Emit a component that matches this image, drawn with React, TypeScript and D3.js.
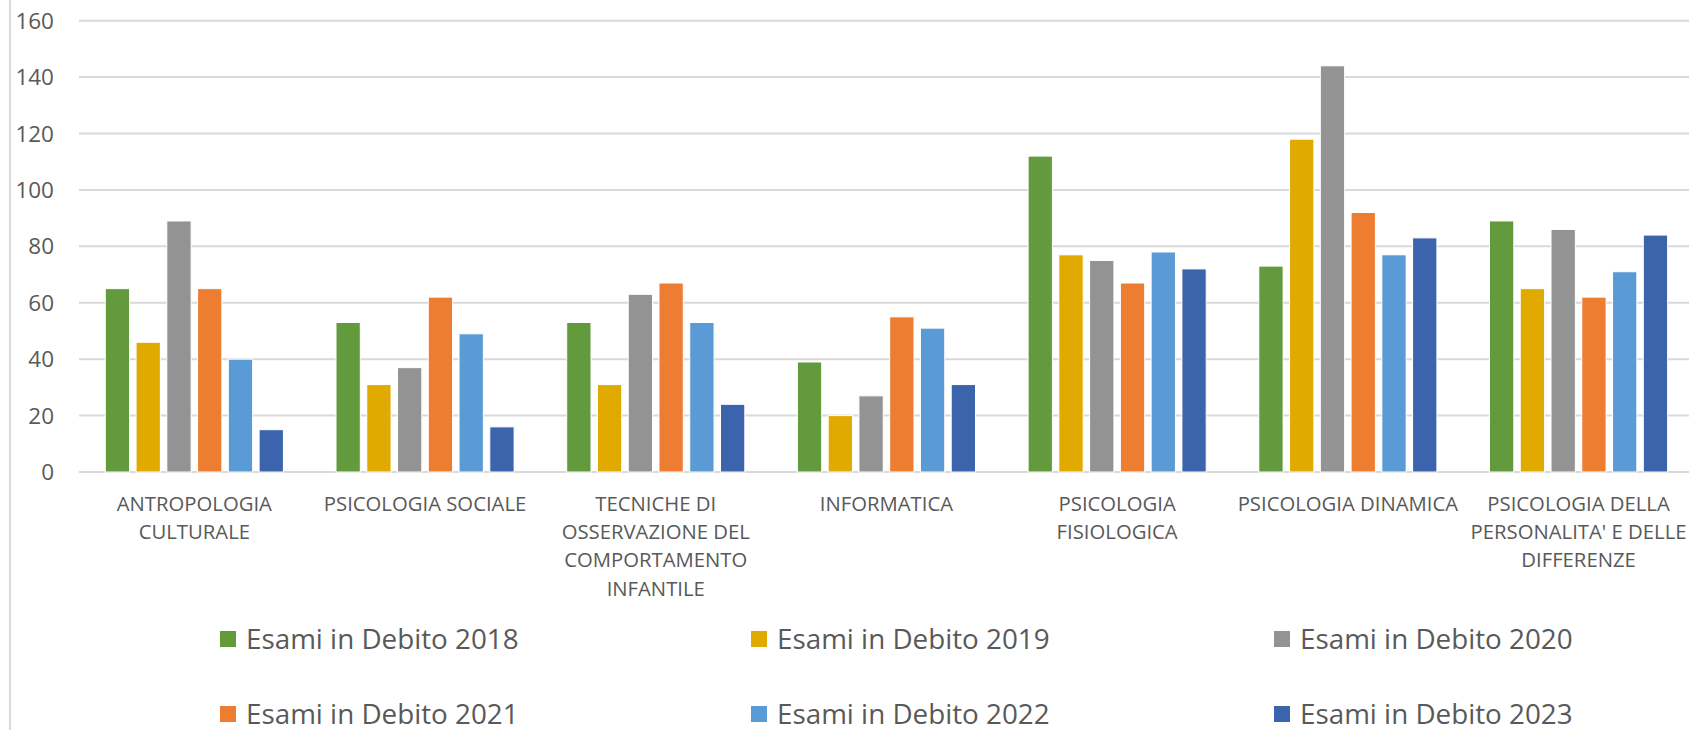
import React, { useRef, useEffect } from "react";
import * as d3 from "d3";

const categories = [
  ["ANTROPOLOGIA", "CULTURALE"],
  ["PSICOLOGIA SOCIALE"],
  ["TECNICHE DI", "OSSERVAZIONE DEL", "COMPORTAMENTO", "INFANTILE"],
  ["INFORMATICA"],
  ["PSICOLOGIA", "FISIOLOGICA"],
  ["PSICOLOGIA DINAMICA"],
  ["PSICOLOGIA DELLA", "PERSONALITA' E DELLE", "DIFFERENZE"],
];

const seriesNames = [
  "Esami in Debito 2018",
  "Esami in Debito 2019",
  "Esami in Debito 2020",
  "Esami in Debito 2021",
  "Esami in Debito 2022",
  "Esami in Debito 2023",
];

const debito2018 = [65, 53, 53, 39, 112, 73, 89];
const debito2019 = [46, 31, 31, 20, 77, 118, 65];
const debito2020 = [89, 37, 63, 27, 75, 144, 86];
const debito2021 = [65, 62, 67, 55, 67, 92, 62];
const debito2022 = [40, 49, 53, 51, 78, 77, 71];
const debito2023 = [15, 16, 24, 31, 72, 83, 84];

const yTicks = [0, 20, 40, 60, 80, 100, 120, 140, 160];

const colors = ["#639a3e", "#e1aa00", "#939393", "#ed7d31", "#5b9bd5", "#3c64ad"];

const App = () => {
  const chartRef = useRef<HTMLDivElement>(null);

  useEffect(() => {
    drawChart();
  }, []);

  const drawChart = () => {
    if (!chartRef.current) return;
    d3.select(chartRef.current).select("svg").remove();

    const width = 1689;
    const height = 730;
    const left = 79;
    const step = 230.7;
    const top = 20.7;
    const bottom = 472;
    const font = "'Open Sans', sans-serif";
    const textColor = "#595959";

    const allSeries = [debito2018, debito2019, debito2020, debito2021, debito2022, debito2023];
    const keys = categories.map((c) => c.join(" "));

    const svg = d3
      .select(chartRef.current)
      .append("svg")
      .attr("width", width)
      .attr("height", height)
      .style("display", "block")
      .style("background", "#fff");

    const x0 = d3
      .scaleBand()
      .domain(keys)
      .range([left, left + step * keys.length])
      .paddingInner(0.228)
      .paddingOuter(0.114);

    const x1 = d3
      .scaleBand()
      .domain(seriesNames)
      .range([0, x0.bandwidth()])
      .paddingInner(0.21);

    const y = d3.scaleLinear().domain([0, 160]).range([bottom, top]);

    // left border line
    svg
      .append("line")
      .attr("x1", 10)
      .attr("x2", 10)
      .attr("y1", 0)
      .attr("y2", height)
      .attr("stroke", "#d9d9d9")
      .attr("stroke-width", 2);

    // gridlines
    svg
      .selectAll(".grid")
      .data(yTicks)
      .enter()
      .append("line")
      .attr("class", "grid")
      .attr("x1", left)
      .attr("x2", width)
      .attr("y1", (d) => y(d))
      .attr("y2", (d) => y(d))
      .attr("stroke", "#d9d9d9")
      .attr("stroke-width", 2);

    svg
      .selectAll(".ytick")
      .data(yTicks)
      .enter()
      .append("text")
      .attr("class", "ytick")
      .attr("x", 54)
      .attr("y", (d) => y(d) + 8)
      .attr("text-anchor", "end")
      .style("font-family", font)
      .style("font-size", "22.5px")
      .style("fill", textColor)
      .text((d) => d);

    // bars
    const groups = svg
      .selectAll(".group")
      .data(keys)
      .enter()
      .append("g")
      .attr("class", "group")
      .attr("transform", (d) => `translate(${x0(d)},0)`);

    groups
      .selectAll("rect")
      .data((d, i) => allSeries.map((s, j) => ({ name: seriesNames[j], value: s[i], color: colors[j] })))
      .enter()
      .append("rect")
      .attr("x", (d) => x1(d.name))
      .attr("y", (d) => y(d.value))
      .attr("width", x1.bandwidth())
      .attr("height", (d) => y(0) - y(d.value))
      .attr("fill", (d) => d.color)
      .attr("stroke", "#ffffff")
      .attr("stroke-width", 1);

    // category labels
    svg
      .selectAll(".cat")
      .data(categories)
      .enter()
      .append("text")
      .attr("class", "cat")
      .attr("text-anchor", "middle")
      .style("font-family", font)
      .style("font-size", "20.3px")
      .style("fill", textColor)
      .each(function (lines, i) {
        const cx = x0(keys[i]) + x0.bandwidth() / 2;
        d3.select(this)
          .selectAll("tspan")
          .data(lines)
          .enter()
          .append("tspan")
          .attr("x", cx)
          .attr("y", (d, k) => 511 + k * 28.2)
          .text((d) => d);
      });

    // legend
    const legendX = [220, 751, 1274];
    const legendY = [639, 714];
    const legend = svg
      .selectAll(".legend")
      .data(seriesNames)
      .enter()
      .append("g")
      .attr("class", "legend")
      .attr("transform", (d, i) => `translate(${legendX[i % 3]},${legendY[Math.floor(i / 3)]})`);

    legend
      .append("rect")
      .attr("x", 0)
      .attr("y", -8)
      .attr("width", 16)
      .attr("height", 16)
      .attr("fill", (d, i) => colors[i]);

    legend
      .append("text")
      .attr("x", 26)
      .attr("y", 9.5)
      .style("font-family", font)
      .style("font-size", "27.8px")
      .style("fill", textColor)
      .text((d) => d);
  };

  return <div ref={chartRef} style={{ position: "absolute", left: 0, top: 0 }}></div>;
};

export default App;
